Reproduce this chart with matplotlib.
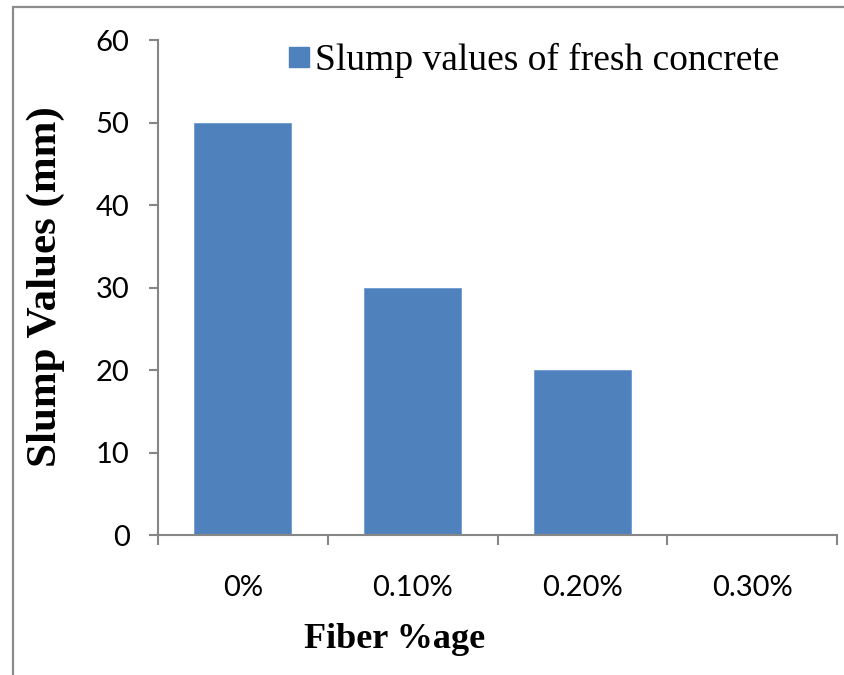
import matplotlib
matplotlib.use("Agg")
import matplotlib.pyplot as plt
from matplotlib.patches import Rectangle
from matplotlib.lines import Line2D

categories = ["0%", "0.10%", "0.20%", "0.30%"]
slump_mm = [50, 30, 20, 0]
y_ticks = [0, 10, 20, 30, 40, 50, 60]
series_name = "Slump values of fresh concrete"

BAR_COLOR = "#4F81BD"
AXIS_GRAY = "#868686"
SERIF = ["Liberation Serif", "DejaVu Serif"]
TICK_FONT = ["Lato", "DejaVu Sans"]

W, H = 844, 675
fig = plt.figure(figsize=(W / 100, H / 100), dpi=100)

# chart-area frame (left and top edges visible, rest runs off the canvas)
fig.patches.append(Rectangle((13 / W, -0.2), 1.5, 1 - 7 / H + 0.2,
                             transform=fig.transFigure, fill=False,
                             edgecolor="#8c8c8c", linewidth=1.6))

ax = fig.add_axes([158 / W, 1 - 535 / H, (837 - 158) / W, (535 - 40) / H])
x = range(len(categories))
ax.bar(x, slump_mm, width=0.57, color=BAR_COLOR, edgecolor="#6f9bd1",
       linewidth=0.6, zorder=2)

ax.set_xlim(-0.5, len(categories) - 0.5)
ax.set_ylim(y_ticks[0], y_ticks[-1])
ax.set_yticks(y_ticks)
ax.set_yticklabels([str(v) for v in y_ticks], fontfamily=TICK_FONT, fontsize=21)

ax.set_xticks(list(x))
ax.set_xticklabels(categories, fontfamily=TICK_FONT, fontsize=21)
ax.set_xticks([i - 0.5 for i in range(len(categories) + 1)], minor=True)
ax.tick_params(axis="x", which="major", length=0, pad=29)
ax.tick_params(axis="x", which="minor", length=7.5, width=1.5, color=AXIS_GRAY,
               direction="out")
ax.tick_params(axis="y", which="major", length=6.5, width=1.5, color=AXIS_GRAY,
               direction="out", pad=14)

for side in ("top", "right"):
    ax.spines[side].set_visible(False)
for side in ("left", "bottom"):
    ax.spines[side].set_color(AXIS_GRAY)
    ax.spines[side].set_linewidth(1.5)

fig.text(395 / W, 1 - 640 / H, "Fiber %age", ha="center", va="center",
         fontfamily=SERIF, fontweight="bold", fontsize=26)
fig.text(46 / W, 1 - 287 / H, "Slump Values (mm)", ha="center", va="center",
         rotation=90, fontfamily=SERIF, fontweight="bold", fontsize=31)

handle = Line2D([], [], marker="s", linestyle="none", markersize=14.5,
                markerfacecolor=BAR_COLOR, markeredgecolor=BAR_COLOR)
leg = ax.legend([handle], [series_name], loc="upper left",
                bbox_to_anchor=(288 / W, 1 - 43 / H), bbox_transform=fig.transFigure,
                frameon=False, handlelength=0.6, handletextpad=0.12,
                borderaxespad=0, borderpad=0,
                prop={"family": SERIF, "size": 27})

fig.savefig("out.png", dpi=100)
